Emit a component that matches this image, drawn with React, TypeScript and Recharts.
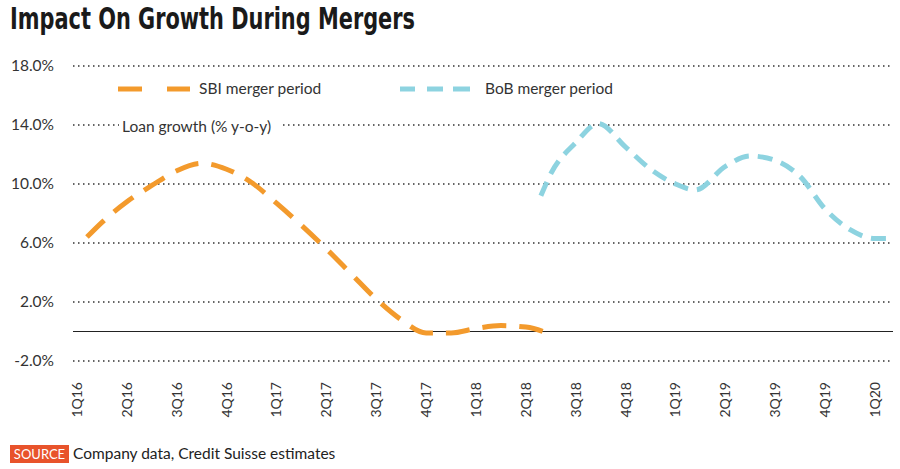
import React from "react";
import { LineChart, Line, XAxis, YAxis, CartesianGrid, ReferenceLine } from "recharts";

const QUARTERS = [
  "1Q16", "2Q16", "3Q16", "4Q16", "1Q17", "2Q17", "3Q17", "4Q17",
  "1Q18", "2Q18", "3Q18", "4Q18", "1Q19", "2Q19", "3Q19", "4Q19", "1Q20",
];
const Y_TICKS = [-2, 2, 6, 10, 14, 18];

// x position measured in quarters from 1Q16
const SBI_X = [0.2, 0.5, 1, 1.5, 2, 2.5, 3, 3.5, 4, 4.5, 5, 5.5, 6, 6.5, 7, 7.5, 8, 8.5, 9, 9.5];
const SBI_Y = [6.4, 7.4, 8.8, 9.9, 10.9, 11.4, 11.0, 10.1, 8.7, 7.2, 5.6, 3.9, 2.2, 0.8, -0.1, -0.1, 0.2, 0.4, 0.3, -0.2];

const BOB_X = [9.3, 9.5, 10, 10.45, 11, 11.5, 12, 12.4, 13, 13.5, 14, 14.5, 15, 15.5, 16, 16.25];
const BOB_Y = [9.2, 10.7, 12.8, 14.1, 12.5, 11.0, 10.0, 9.6, 11.2, 11.9, 11.6, 10.5, 8.3, 6.9, 6.3, 6.3];

const sbiData = SBI_X.map((x, i) => ({ x, v: SBI_Y[i] }));
const bobData = BOB_X.map((x, i) => ({ x, v: BOB_Y[i] }));

const ORANGE = "#F39A2C";
const CYAN = "#8DD3E0";
const FONT = "Lato, 'Open Sans', sans-serif";

const YTick = (props: any) => {
  const { y, payload } = props;
  return (
    <text x={54} y={y} dy="0.35em" textAnchor="end" fontSize={15.5} fill="#333" fontFamily={FONT}>
      {payload.value.toFixed(1)}%
    </text>
  );
};

const XTick = (props: any) => {
  const { x, payload } = props;
  return (
    <text
      x={x}
      y={382}
      dy="0.35em"
      textAnchor="end"
      fontSize={14}
      fill="#333"
      fontFamily={FONT}
      transform={`rotate(-90, ${x}, 382)`}
    >
      {QUARTERS[payload.value]}
    </text>
  );
};

export default function App() {
  return (
    <div style={{ position: "fixed", left: 0, top: 0, width: 900, height: 469, background: "#fff" }}>
      <LineChart
        width={900}
        height={469}
        margin={{ top: 66, right: 7, bottom: 78, left: 8 }}
      >
        <CartesianGrid
          vertical={false}
          stroke="#333"
          strokeWidth={1.5}
          strokeDasharray="1.5 3.5"
        />
        <XAxis
          type="number"
          dataKey="x"
          domain={[-0.08, 16.36]}
          ticks={QUARTERS.map((_, i) => i)}
          axisLine={false}
          tickLine={false}
          height={30}
          tick={<XTick />}
          allowDataOverflow
        />
        <YAxis
          type="number"
          domain={[-2, 18]}
          ticks={Y_TICKS}
          axisLine={false}
          tickLine={false}
          width={65}
          tick={<YTick />}
        />
        <ReferenceLine y={0} stroke="#222" strokeWidth={1.2} />
        <Line
          data={sbiData}
          dataKey="v"
          type="monotone"
          stroke={ORANGE}
          strokeWidth={5}
          strokeDasharray="24 13"
          dot={false}
          isAnimationActive={false}
        />
        <Line
          data={bobData}
          dataKey="v"
          type="monotone"
          stroke={CYAN}
          strokeWidth={5}
          strokeDasharray="15 9"
          dot={false}
          isAnimationActive={false}
        />
      </LineChart>

      <svg style={{ position: "absolute", left: 0, top: 0 }} width={900} height={469}>
        <text
          x={10}
          y={29}
          fontSize={30}
          fontWeight={700}
          fill="#1a1a1a"
          fontFamily="'DejaVu Sans', sans-serif"
          textLength={405}
          lengthAdjust="spacingAndGlyphs"
        >
          Impact On Growth During Mergers
        </text>
        <line x1={118} y1={89} x2={142} y2={89} stroke={ORANGE} strokeWidth={5} />
        <line x1={167} y1={89} x2={190} y2={89} stroke={ORANGE} strokeWidth={5} />
        <text x={199} y={89} dy="0.35em" fontSize={15.5} fill="#333" fontFamily={FONT}>
          SBI merger period
        </text>
        <line x1={400} y1={89} x2={415} y2={89} stroke={CYAN} strokeWidth={5} />
        <line x1={427} y1={89} x2={443} y2={89} stroke={CYAN} strokeWidth={5} />
        <line x1={453} y1={89} x2={470} y2={89} stroke={CYAN} strokeWidth={5} />
        <text x={485} y={89} dy="0.35em" fontSize={15.5} fill="#333" fontFamily={FONT}>
          BoB merger period
        </text>
        <rect x={119} y={116} width={162} height={20} fill="#fff" />
        <text x={122} y={127} dy="0.35em" fontSize={15.5} fill="#333" fontFamily={FONT}>
          Loan growth (% y-o-y)
        </text>
        <rect x={10} y={445} width={59} height={18} fill="#E8532B" />
        <text x={39.5} y={454} dy="0.35em" textAnchor="middle" fontSize={13} fill="#fff" fontFamily={FONT}>
          SOURCE
        </text>
        <text x={73} y={454} dy="0.35em" fontSize={15.5} fill="#222" fontFamily={FONT}>
          Company data, Credit Suisse estimates
        </text>
      </svg>
    </div>
  );
}
